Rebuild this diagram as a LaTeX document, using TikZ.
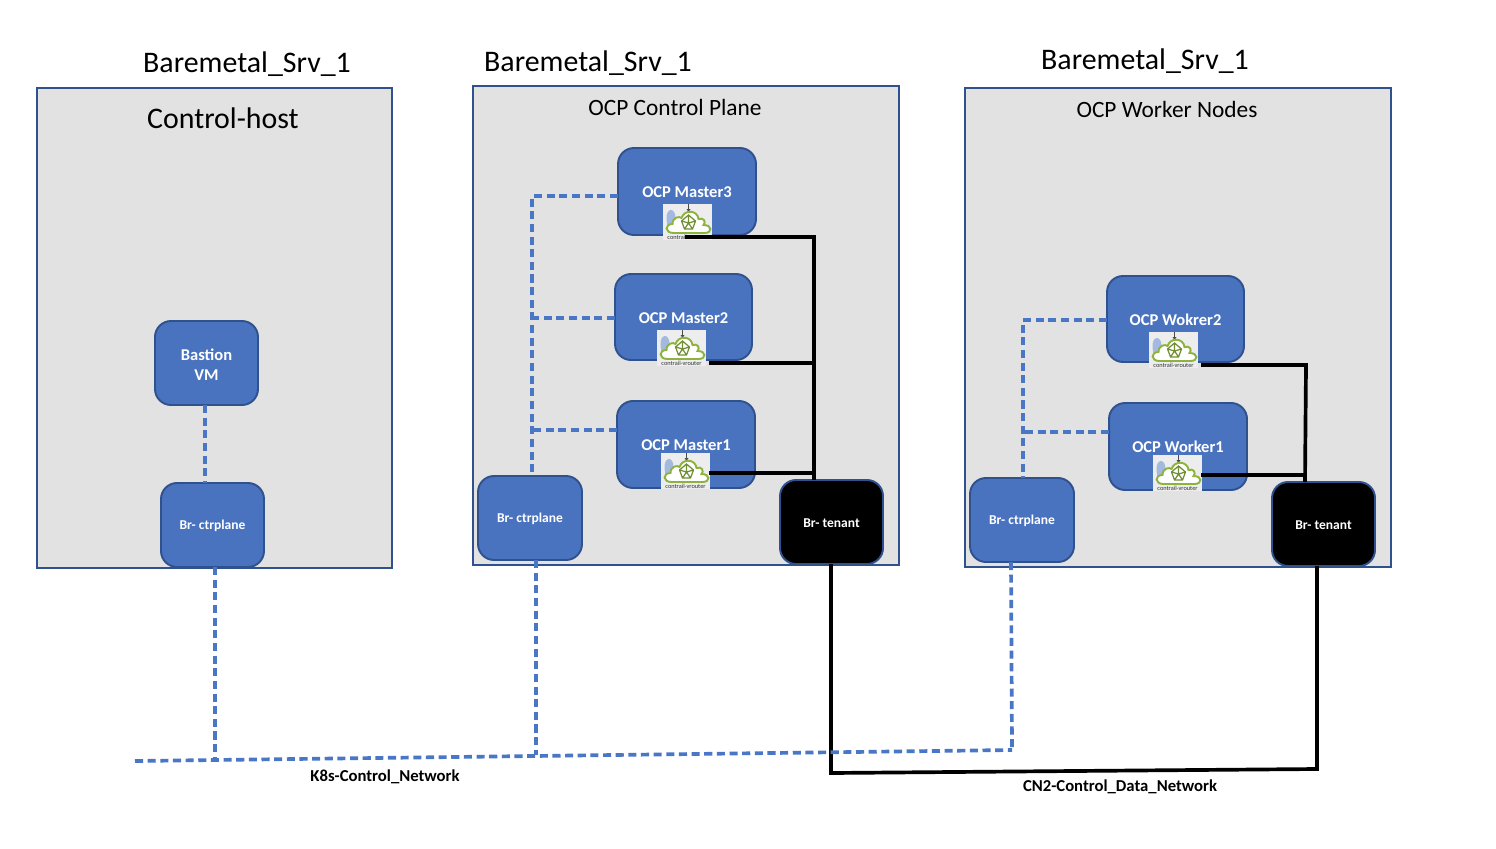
\documentclass[tikz,border=0pt]{standalone}
\usepackage{fontspec}
\setmainfont{Carlito}
\definecolor{boxblue}{HTML}{4A73BF}
\definecolor{edgeblue}{HTML}{2F528F}
\definecolor{panel}{HTML}{E2E2E2}
\definecolor{dashblue}{HTML}{4A76C6}
\definecolor{leaf}{HTML}{8DB33F}
\newcommand{\fsz}[1]{\fontsize{#1}{#1}\selectfont}
\tikzset{
  x=0.02cm,y=-0.02cm,
  panelbox/.style={draw=edgeblue,fill=panel,line width=1.1pt,inner sep=0pt},
  vm/.style={draw=edgeblue,fill=boxblue,line width=1.1pt,rounded corners=0.32cm,text=white,font=\fsz{9.4}\bfseries,align=center,inner sep=0pt},
  oneline/.style={text height=7pt,text depth=0pt},
  br/.style={vm,font=\fsz{7.7}\bfseries,text height=5.4pt,text depth=0pt},
  tenant/.style={br,fill=black,text height=6.4pt},
  title/.style={font=\fsz{17},inner sep=0pt},
  sub/.style={font=\fsz{13.3},inner sep=0pt},
  netlabel/.style={font=\fsz{9.5}\bfseries,inner sep=0pt},
  ctl/.style={dashblue,line width=2.1pt,dash pattern=on 4.6pt off 2.6pt},
  data/.style={black,line width=2.1pt},
  pics/vrouter/.style={code={
    \fill[black!7] (-24.5,-18) rectangle (24.5,18);
    \fill[boxblue!50] (-21,-2) .. controls (-22,-15) and (-12,-15) .. (-12,-4) .. controls (-12,4) and (-16,9) .. (-17,9) .. controls (-19,9) and (-20,4) .. (-21,-2) -- cycle;
    \draw[black!70,line width=0.3pt] (1,-18) -- (1,-13);
    \fill[black!70] (-1,-13) -- (3,-13) -- (1,-10) -- cycle;
    \draw[leaf,line width=1.1pt,fill=white] (-14,11) .. controls (-23,11) and (-23,2) .. (-15,2) .. controls (-15,-5) and (-8,-6) .. (-6,-4) .. controls (-3,-13) and (10,-12) .. (11,-3) .. controls (16,-5) and (19,0) .. (16,3) .. controls (25,3) and (25,11) .. (17,11) -- cycle;
    \draw[leaf!80!black,line width=0.7pt] (1,-7) -- (8,-1) -- (5,7) -- (-3,7) -- (-6,-1) -- cycle (1,-7) -- (1,1) -- (5,7) (1,1) -- (-3,7) (1,1) -- (8,-1) (1,1) -- (-6,-1);
    \node[font=\fsz{3.6},text=black!80,inner sep=0pt] at (0,15) {contrail-vrouter};
  }}
}
\begin{document}
\begin{tikzpicture}
\useasboundingbox (0,0) rectangle (1496,848);
% panels
\node[panelbox,minimum width=7.1cm,minimum height=9.6cm] (host) at (214.5,328) {};
\node[panelbox,minimum width=8.52cm,minimum height=9.58cm] (cp) at (686,325.5) {};
\node[panelbox,minimum width=8.52cm,minimum height=9.58cm] (wk) at (1178,327.5) {};
% titles
\node[title] (t1) at (247,64) {Baremetal\_Srv\_1};
\node[title] (t2) at (588,63) {Baremetal\_Srv\_1};
\node[title] (t3) at (1145,61) {Baremetal\_Srv\_1};
\node[title] (s1) at (223,118) {Control-host};
\node[sub] (s2) at (675,107) {OCP Control Plane};
\node[sub] (s3) at (1167,109) {OCP Worker Nodes};
% vm nodes
\node[vm,oneline,minimum width=2.76cm,minimum height=1.74cm] (m3) at (687,191.5) {OCP Master3};
\node[vm,oneline,minimum width=2.74cm,minimum height=1.72cm] (m2) at (683.5,317) {OCP Master2};
\node[vm,oneline,minimum width=2.76cm,minimum height=1.74cm] (m1) at (686,444.5) {OCP Master1};
\node[vm,oneline,minimum width=2.74cm,minimum height=1.72cm] (w2) at (1175.5,319) {OCP Wokrer2};
\node[vm,oneline,minimum width=2.76cm,minimum height=1.74cm] (w1) at (1178,446.5) {OCP Worker1};
\node[vm,minimum width=2.06cm,minimum height=1.68cm] (bast) at (206.5,363) {\rule{0pt}{8.6pt}Bastion\\[2pt]VM};
% bridges
\node[br,minimum width=2.06cm,minimum height=1.68cm] (b1) at (212.5,525) {Br- ctrplane};
\node[br,minimum width=2.08cm,minimum height=1.68cm] (b2) at (530,518) {Br- ctrplane};
\node[br,minimum width=2.08cm,minimum height=1.68cm] (b3) at (1022,520) {Br- ctrplane};
\node[tenant,minimum width=2.06cm,minimum height=1.68cm] (t4) at (831.5,522) {Br- tenant};
\node[tenant,minimum width=2.06cm,minimum height=1.68cm] (t5) at (1323.5,524) {Br- tenant};
% icons
\pic at (687.5,222) {vrouter};
\pic at (681.5,348) {vrouter};
\pic at (685.5,471) {vrouter};
\pic at (1173.5,350) {vrouter};
\pic at (1177.5,473) {vrouter};
% connector anchors
\coordinate (m3l) at (618,196); \coordinate (m2l) at (615,318); \coordinate (m1l) at (617,430);
\coordinate (j3) at (532,196); \coordinate (j2) at (532,318); \coordinate (j1) at (532,430);
\coordinate (b2t) at (532,476);
\coordinate (w2l) at (1107,320); \coordinate (w1l) at (1109,432);
\coordinate (k2) at (1023,320); \coordinate (k1) at (1023,432); \coordinate (b3t) at (1023,478);
\coordinate (bastb) at (205,405); \coordinate (b1tt) at (205,483);
\coordinate (netL) at (135,761); \coordinate (netR) at (1012,750);
\coordinate (b1b) at (215,567); \coordinate (n1) at (215,760);
\coordinate (b2b) at (536,560); \coordinate (n2) at (536,755);
\coordinate (b3b) at (1011,562);
\coordinate (v3) at (685,237); \coordinate (c3) at (814,237); \coordinate (t4t) at (814,480);
\coordinate (v2) at (709,363); \coordinate (c2) at (814,363);
\coordinate (v1) at (709,473); \coordinate (c1) at (814,473);
\coordinate (u2) at (1201,365); \coordinate (d2) at (1306,365); \coordinate (t5t) at (1305,482);
\coordinate (u1) at (1201,475); \coordinate (d1) at (1305,475);
\coordinate (t4b) at (831,564); \coordinate (f1) at (831,773);
\coordinate (t5b) at (1317,566); \coordinate (f2) at (1317,769);
% dashed control network
\draw[ctl] (m3l) -- (j3) -- (b2t);
\draw[ctl] (m2l) -- (j2);
\draw[ctl] (m1l) -- (j1);
\draw[ctl] (w2l) -- (k2) -- (b3t);
\draw[ctl] (w1l) -- (k1);
\draw[ctl] (bastb) -- (b1tt);
\draw[ctl] (b1b) -- (n1);
\draw[ctl] (b2b) -- (n2);
\draw[ctl] (b3b) -- (netR);
% solid data network
\draw[data] (v3) -- (c3) -- (t4t);
\draw[data] (v2) -- (c2);
\draw[data] (v1) -- (c1);
\draw[data] (u2) -- (d2) -- (t5t);
\draw[data] (u1) -- (d1);
\draw[data] (t4b) -- (f1) -- (f2) -- (t5b);
\draw[ctl] (netL) -- (netR);
% network labels
\node[netlabel] (l1) at (385,777) {K8s-Control\_Network};
\node[netlabel] (l2) at (1120,787) {CN2-Control\_Data\_Network};
\end{tikzpicture}
\end{document}
